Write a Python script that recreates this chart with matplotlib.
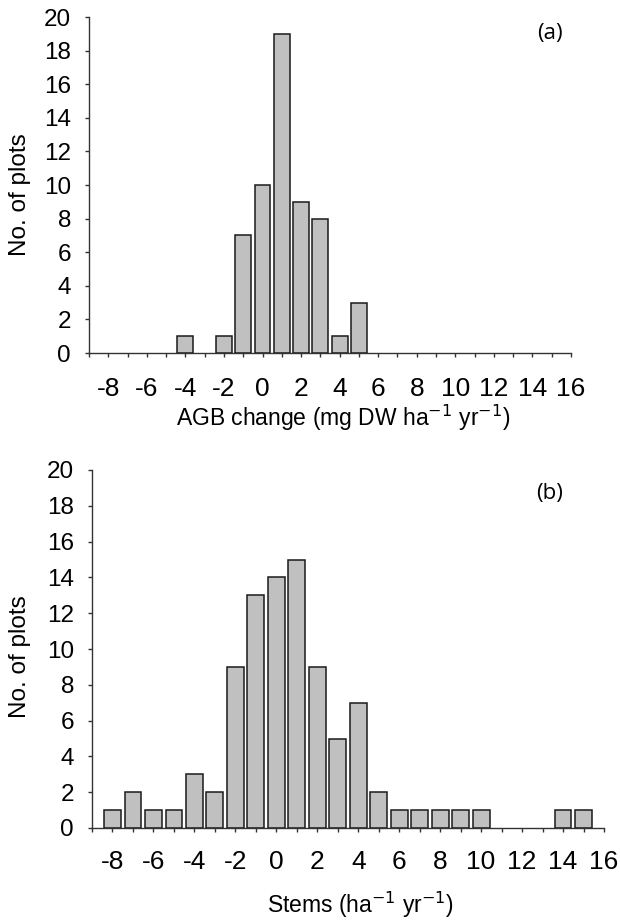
import matplotlib
matplotlib.use("Agg")
import matplotlib.pyplot as plt
from matplotlib.ticker import MultipleLocator

plt.rcParams['font.family'] = ['Liberation Sans', 'DejaVu Sans']

# Histogram counts per class (class centres on integer values)
agb_classes = [-4, -2, -1, 0, 1, 2, 3, 4, 5]
agb_counts = [1, 1, 7, 10, 19, 9, 8, 1, 3]

stem_classes = [-8, -7, -6, -5, -4, -3, -2, -1, 0, 1, 2, 3, 4, 5, 6, 7, 8, 9, 10, 14, 15]
stem_counts = [1, 2, 1, 1, 3, 2, 9, 13, 14, 15, 9, 5, 7, 2, 1, 1, 1, 1, 1, 1, 1]

x_ticks = list(range(-8, 17, 2))
y_ticks = list(range(0, 21, 2))

W, H = 620, 921
fig = plt.figure(figsize=(W / 100, H / 100), dpi=100)


def box(l, r, t, b):
    return [l / W, 1 - b / H, (r - l) / W, (b - t) / H]


def histogram(rect, classes, counts, xpad):
    ax = fig.add_axes(rect)
    ax.bar(classes, counts, width=0.82, color='#c0c0c0',
           edgecolor='#1a1a1a', linewidth=1.1, zorder=3)
    ax.set_xlim(-9, 16)
    ax.set_ylim(0, 20)
    ax.spines['top'].set_visible(False)
    ax.spines['right'].set_visible(False)
    for s in ('left', 'bottom'):
        ax.spines[s].set_color('#333333')
        ax.spines[s].set_linewidth(1.0)
    ax.set_xticks(x_ticks)
    ax.set_xticklabels([str(v) for v in x_ticks])
    ax.xaxis.set_minor_locator(MultipleLocator(1))
    ax.set_yticks(y_ticks)
    ax.tick_params(axis='y', direction='out', length=3, width=1,
                   labelsize=17.5, pad=10, color='#333333')
    ax.tick_params(axis='x', which='both', direction='out', length=3,
                   width=1, color='#333333')
    ax.tick_params(axis='x', which='major', labelsize=19, pad=xpad)
    return ax


ax1 = histogram(box(89, 571, 17, 353), agb_classes, agb_counts, 14)
ax2 = histogram(box(92, 604, 470, 828), stem_classes, stem_counts, 12.5)

# Axis titles
fig.text(20 / W, 1 - 195 / H, 'No. of plots', rotation=90,
         ha='center', va='center', fontsize=17.5)
fig.text(20 / W, 1 - 657 / H, 'No. of plots', rotation=90,
         ha='center', va='center', fontsize=17.5)
fig.text(343 / W, 1 - 418 / H,
         'AGB change (mg DW ha$^{\u22121}$ yr$^{\u22121}$)',
         ha='center', va='center', fontsize=16.5)
fig.text(360 / W, 1 - 905 / H,
         'Stems (ha$^{\u22121}$ yr$^{\u22121}$)',
         ha='center', va='center', fontsize=16.5)

# Panel tags
fig.text(550 / W, 1 - 33 / H, '(a)', ha='center', va='center',
         fontsize=16, family=['Open Sans', 'DejaVu Sans'])
fig.text(550 / W, 1 - 493 / H, '(b)', ha='center', va='center',
         fontsize=16, family=['Open Sans', 'DejaVu Sans'])

fig.savefig('out.png', dpi=100)
